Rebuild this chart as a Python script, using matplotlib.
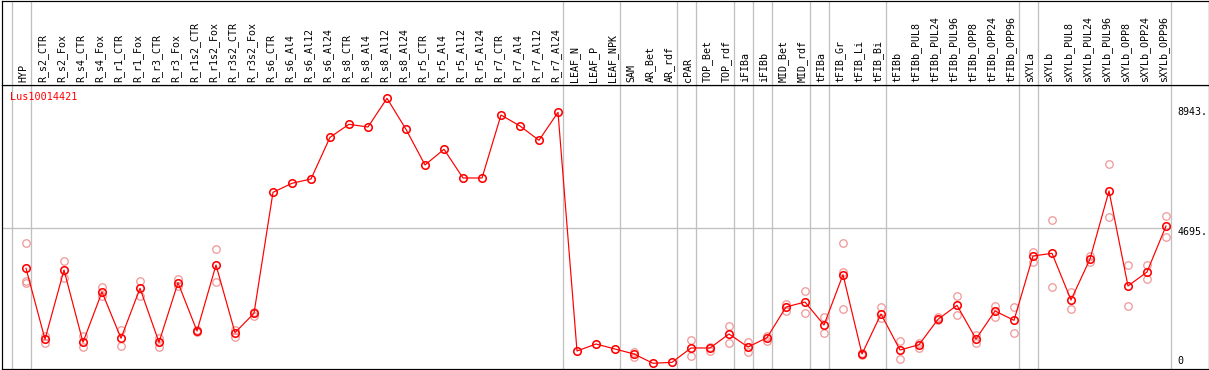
import numpy as np
import matplotlib
matplotlib.use("Agg")
import matplotlib.pyplot as plt

# ---------------- data ----------------
gene = "Lus10014421"
categories = [
    "HYP", "R_s2_CTR", "R_s2_Fox", "R_s4_CTR", "R_s4_Fox", "R_r1_CTR", "R_r1_Fox",
    "R_r3_CTR", "R_r3_Fox", "R_r1s2_CTR", "R_r1s2_Fox", "R_r3s2_CTR", "R_r3s2_Fox",
    "R_s6_CTR", "R_s6_Al4", "R_s6_Al12", "R_s6_Al24", "R_s8_CTR", "R_s8_Al4",
    "R_s8_Al12", "R_s8_Al24", "R_r5_CTR", "R_r5_Al4", "R_r5_Al12", "R_r5_Al24",
    "R_r7_CTR", "R_r7_Al4", "R_r7_Al12", "R_r7_Al24", "LEAF_N", "LEAF_P", "LEAF_NPK",
    "SAM", "AR_Bet", "AR_rdf", "cPAR", "TOP_Bet", "TOP_rdf", "iFIBa", "iFIBb",
    "MID_Bet", "MID_rdf", "tFIBa", "tFIB_Gr", "tFIB_Li", "tFIB_Bi", "tFIBb",
    "tFIBb_PUL8", "tFIBb_PUL24", "tFIBb_PUL96", "tFIBb_OPP8", "tFIBb_OPP24",
    "tFIBb_OPP96", "sXYLa", "sXYLb", "sXYLb_PUL8", "sXYLb_PUL24", "sXYLb_PUL96",
    "sXYLb_OPP8", "sXYLb_OPP24", "sXYLb_OPP96",
]
# sizes of sample groups (separated by grey lines)
group_sizes = [1, 28, 3, 3, 1, 2, 1, 1, 2, 1, 3, 7, 1, 7]

mean_values = [
    3388, 1068, 3332, 970, 2614, 1101, 2734, 970, 2917, 1339, 3496, 1284, 1918,
    5871, 6166, 6306, 7669, 8093, 8005, 8943, 7930, 6764, 7277, 6339, 6339,
    8397, 8038, 7571, 8486, 686, 914, 751, 588, 284, 316, 784, 784, 1241, 816,
    1120, 2123, 2287, 1535, 3179, 588, 1895, 718, 891, 1721, 2179, 1078, 1993,
    1689, 3790, 3878, 2352, 3692, 5914, 2810, 3267, 4770,
]
nan = np.nan
rep_a = [
    4205, 1176, 3617, 1176, 2787, 1372, 2973, 1101, 3048, 1372, 4009, 1372, 1970,
    nan, nan, nan, nan, nan, nan, nan, nan, nan, nan, nan, nan, nan, nan, nan, nan,
    nan, nan, nan, 663, nan, nan, 1045, 826, 1503, 970, 1176, 2212, 2646, 1806,
    4205, 630, 2133, 1012, 937, 1806, 2473, 1208, 2156, 2123, 3930, 4957, 2623,
    3800, 6796, 3486, 3486, 5097,
]
rep_b = [
    2983, 937, 3061, 807, 2483, 839, 2483, 826, 2810, 1297, 2950, 1153, 1829,
    nan, nan, nan, nan, nan, nan, nan, nan, nan, nan, nan, nan, nan, nan, nan, nan,
    nan, nan, nan, 499, nan, nan, 522, 695, 957, 663, 1022, 2003, 1918, 1264,
    3257, 555, 1780, 424, 774, 1699, 1862, 937, 1787, 1274, 3584, 2777, 2058,
    3604, 5055, 2156, 3029, 4401,
]
rep_c = [2917] + [nan] * 42 + [2058] + [nan] * 17

y_tick_labels = ["8943.", "4695.", "0"]
grid_value = 4695

# ---------------- layout ----------------
W, H, DPI = 1209, 370, 100
fig = plt.figure(figsize=(W / DPI, H / DPI), dpi=DPI)
fig.patch.set_facecolor("white")

def px_x(x):
    return x / W

def px_y(y):
    return 1 - y / H

x0_px, step_px = 26.0, 19.0
left_px, right_px = 1.5, 1208.5
head_px, bottom_px = 85.3, 368.5
xlim = ((left_px - x0_px) / step_px, (right_px - x0_px) / step_px)
# value scale: px per unit
scale = 1 / 32.677
y_of = lambda ypx: 12155.2 - 32.677 * ypx
ylim = (y_of(bottom_px), y_of(head_px))

ax = fig.add_axes([px_x(left_px), px_y(bottom_px), px_x(right_px - left_px),
                   (bottom_px - head_px) / H])
axh = fig.add_axes([px_x(left_px), px_y(head_px), px_x(right_px - left_px),
                    (head_px - 0.6) / H])

grid_c = "#c0c0c0"
lw_px = 72 / DPI

n = len(categories)
xs = np.arange(n)
bounds = np.cumsum([0] + group_sizes) - 1  # last index of each group (incl. -1)
goff = 4.7 / step_px

for a in (ax, axh):
    a.set_xlim(*xlim)
    a.set_xticks([])
    a.set_yticks([])
    for s in a.spines.values():
        s.set_color("black")
        s.set_linewidth(1.2 * lw_px)
    for b in bounds:
        a.axvline(b + goff, color=grid_c, lw=1.3 * lw_px, zorder=0)

ax.set_ylim(*ylim)
ax.plot([xlim[0], n - 1 + goff], [grid_value, grid_value], color=grid_c,
        lw=1.3 * lw_px, zorder=0, solid_capstyle="butt")

ms = 7.5 * 72 / DPI
pale = "#f09a9a"
for reps in (rep_a, rep_b, rep_c):
    ax.plot(xs, reps, linestyle="none", marker="o", ms=ms, mfc="none",
            mec=pale, mew=1.3 * lw_px, zorder=2)
ax.plot(xs, mean_values, color="#ff0000", lw=1.2 * lw_px, zorder=3)
ax.plot(xs, mean_values, linestyle="none", marker="o", ms=ms, mfc="none",
        mec="#ff0000", mew=1.6 * lw_px, zorder=4)

# header labels
axh.set_ylim(0, head_px - 0.6)
font = "DejaVu Sans Mono"
for i, lab in enumerate(categories):
    axh.text(i - 2.7 / step_px, 2.8, lab, rotation=90, ha="center", va="bottom",
             fontsize=7.2, family=font, color="black")

# gene name
fig.text(px_x(10), px_y(96.7), gene, color="#ff0000", fontsize=7.3, family=font,
         ha="left", va="center")

# value labels on the right
for lab, ypx in zip(y_tick_labels, [112.3, 232.3, 361.5]):
    fig.text(px_x(1177.5), px_y(ypx), lab, fontsize=7.2, family=font,
             ha="left", va="center", color="black")

fig.savefig("out.png", dpi=DPI, facecolor="white")
